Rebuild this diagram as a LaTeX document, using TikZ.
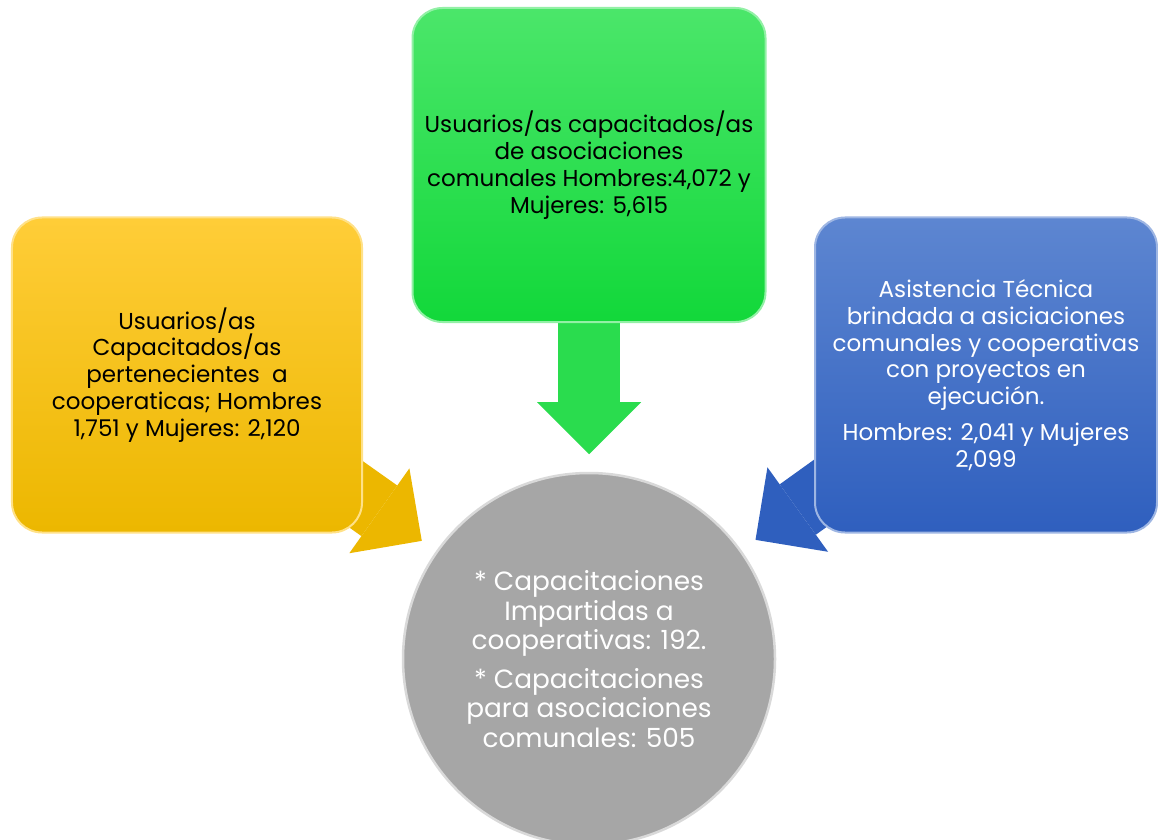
\documentclass[tikz,border=0pt]{standalone}
\usepackage{fontspec}
\setmainfont{Poppins}
\usetikzlibrary{arrows.meta,backgrounds}
\definecolor{ylwtop}{HTML}{FFCD38}
\definecolor{ylwbot}{HTML}{ECB700}
\definecolor{grntop}{HTML}{4BE66A}
\definecolor{grnbot}{HTML}{12D83A}
\definecolor{blutop}{HTML}{5D86D1}
\definecolor{blubot}{HTML}{2F5FBE}
\definecolor{circgray}{HTML}{A6A6A6}
\begin{document}
\begin{tikzpicture}[x=0.2mm,y=-0.2mm,
    box/.style={rounded corners=6mm, minimum width=70mm, minimum height=63mm,
      align=center, inner sep=0pt, font=\fontsize{13.1}{15.3}\selectfont},
    blockarrow/.style={line width=12.4mm,
      -{Triangle[length=10.4mm,width=20.8mm,line width=0pt]},
      shorten >=3.5mm, shorten <=-12mm}]
    \useasboundingbox (0,0) rectangle (1158,840);

    % Source boxes
    \node[box, top color=ylwtop, bottom color=ylwbot, draw=ylwtop!60!white, line width=0.4mm]
      (ylw) at (187,375) {Usuarios/as\\ Capacitados/as\\ pertenecientes\ \ a\\
      cooperaticas; Hombres\\ 1,751 y Mujeres: 2,120};
    \node[box, top color=grntop, bottom color=grnbot, draw=grntop!60!white, line width=0.4mm,
      minimum width=70.6mm, minimum height=62.8mm]
      (grn) at (589,165) {Usuarios/as capacitados/as\\ de asociaciones\\
      comunales Hombres:4,072 y\\ Mujeres: 5,615};
    \node[box, top color=blutop, bottom color=blubot, draw=blutop!60!white, line width=0.4mm,
      minimum width=68.4mm, text=white]
      (blu) at (986,375) {Asistencia Técnica\\ brindada a asiciaciones\\
      comunales y cooperativas\\ con proyectos en\\ ejecución.\\[5pt]
      Hombres: 2,041 y Mujeres\\ 2,099};

    % Target circle
    \node[circle, minimum size=74.4mm, inner sep=0pt, fill=circgray,
      draw=gray!30, line width=0.5mm, text=white, align=center,
      font=\fontsize{15}{16.8}\selectfont]
      (circ) at (589,659) {* Capacitaciones\\ Impartidas a\\ cooperativas: 192.\\[5pt]
      * Capacitaciones\\ para asociaciones\\ comunales: 505};

    % Block arrows
    \begin{scope}[on background layer]
      \draw[blockarrow, ylwbot] (ylw) -- (circ);
      \draw[blockarrow, grnbot!90!white] (grn) -- (circ);
      \draw[blockarrow, blubot] (blu) -- (circ);
    \end{scope}
\end{tikzpicture}
\end{document}
